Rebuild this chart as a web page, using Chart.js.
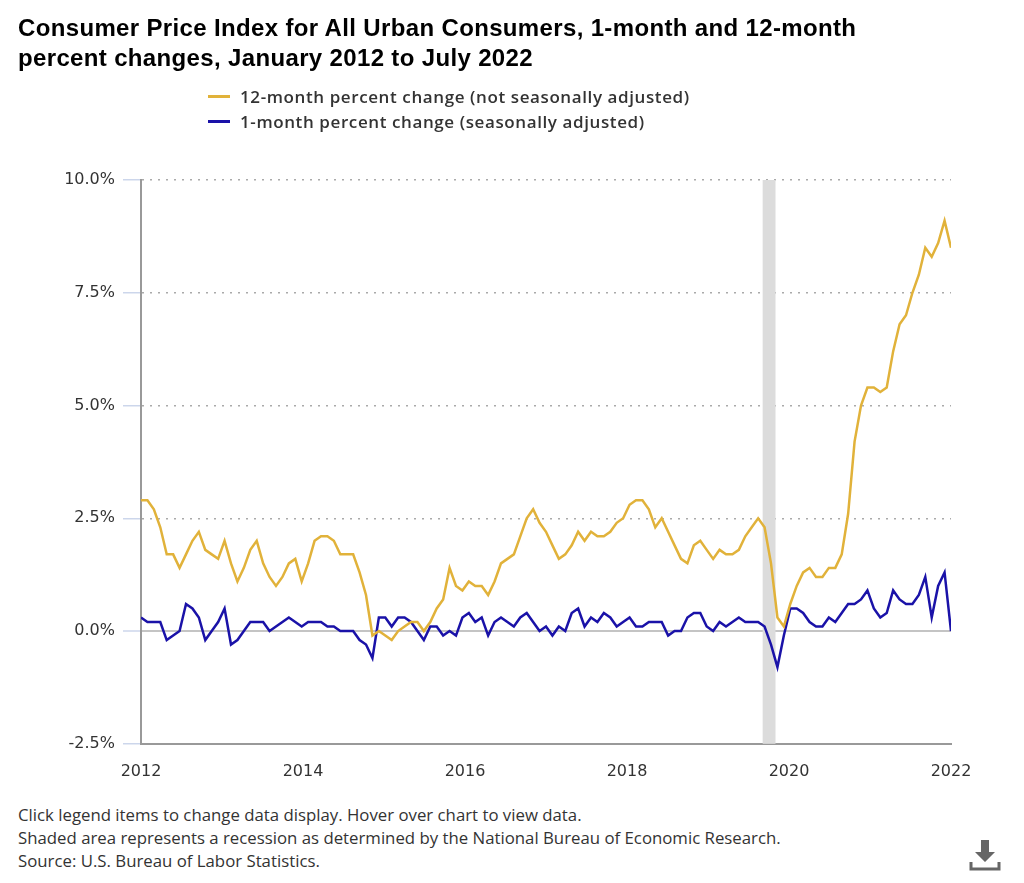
<!DOCTYPE html>
<html>
<head>
<meta charset="utf-8">
<script src="https://cdn.jsdelivr.net/npm/chart.js@4.4.1/dist/chart.umd.min.js"></script>
<style>
  body { margin: 0; background: #fff; width: 1024px; height: 883px; overflow: hidden; position: relative; font-family: "Open Sans", sans-serif; color: #333; }
  #title { position: absolute; left: 18px; top: 13px; font: bold 24px "Liberation Sans", Arial, sans-serif; letter-spacing: 0.35px; line-height: 30px; color: #000; }
  #legend { position: absolute; left: 208px; top: 84px; font-size: 17px; font-weight: 600; letter-spacing: 0.6px; line-height: 25px; color: #333; }
  #legend .item { display: flex; align-items: center; }
  #legend .swatch { width: 22px; height: 3px; margin-right: 10px; }
  #wrap { position: absolute; left: 0; top: 0; width: 1024px; height: 800px; }
  #notes { position: absolute; left: 18px; top: 803px; font-size: 16.8px; line-height: 23px; color: #333; }
  #dl { position: absolute; left: 968px; top: 838px; }
</style>
</head>
<body>
<div id="wrap"><canvas id="cpiChart" width="1024" height="800"></canvas></div>
<div id="title">Consumer Price Index for All Urban Consumers, 1-month and 12-month<br>percent changes, January 2012 to July 2022</div>
<div id="legend"></div>
<div id="notes">
  Click legend items to change data display. Hover over chart to view data.<br>
  Shaded area represents a recession as determined by the National Bureau of Economic Research.<br>
  Source: U.S. Bureau of Labor Statistics.
</div>
<svg id="dl" width="34" height="34" viewBox="0 0 34 34">
  <path d="M13 2h8v12h6l-10 10-10-10h6z" fill="#666"/>
  <path d="M3 24v7h28v-7" fill="none" stroke="#666" stroke-width="3"/>
</svg>
<script>
// monthly data, Jan 2012 .. Jul 2022
const twelveMonth = [
  2.9, 2.9, 2.7, 2.3, 1.7, 1.7, 1.4, 1.7, 2.0, 2.2, 1.8, 1.7,
  1.6, 2.0, 1.5, 1.1, 1.4, 1.8, 2.0, 1.5, 1.2, 1.0, 1.2, 1.5,
  1.6, 1.1, 1.5, 2.0, 2.1, 2.1, 2.0, 1.7, 1.7, 1.7, 1.3, 0.8,
  -0.1, 0.0, -0.1, -0.2, 0.0, 0.1, 0.2, 0.2, 0.0, 0.2, 0.5, 0.7,
  1.4, 1.0, 0.9, 1.1, 1.0, 1.0, 0.8, 1.1, 1.5, 1.6, 1.7, 2.1,
  2.5, 2.7, 2.4, 2.2, 1.9, 1.6, 1.7, 1.9, 2.2, 2.0, 2.2, 2.1,
  2.1, 2.2, 2.4, 2.5, 2.8, 2.9, 2.9, 2.7, 2.3, 2.5, 2.2, 1.9,
  1.6, 1.5, 1.9, 2.0, 1.8, 1.6, 1.8, 1.7, 1.7, 1.8, 2.1, 2.3,
  2.5, 2.3, 1.5, 0.3, 0.1, 0.6, 1.0, 1.3, 1.4, 1.2, 1.2, 1.4,
  1.4, 1.7, 2.6, 4.2, 5.0, 5.4, 5.4, 5.3, 5.4, 6.2, 6.8, 7.0,
  7.5, 7.9, 8.5, 8.3, 8.6, 9.1, 8.5
];
const oneMonth = [
  0.3, 0.2, 0.2, 0.2, -0.2, -0.1, 0.0, 0.6, 0.5, 0.3, -0.2, 0.0,
  0.2, 0.5, -0.3, -0.2, 0.0, 0.2, 0.2, 0.2, 0.0, 0.1, 0.2, 0.3,
  0.2, 0.1, 0.2, 0.2, 0.2, 0.1, 0.1, 0.0, 0.0, 0.0, -0.2, -0.3,
  -0.6, 0.3, 0.3, 0.1, 0.3, 0.3, 0.2, 0.0, -0.2, 0.1, 0.1, -0.1,
  0.0, -0.1, 0.3, 0.4, 0.2, 0.3, -0.1, 0.2, 0.3, 0.2, 0.1, 0.3,
  0.4, 0.2, 0.0, 0.1, -0.1, 0.1, 0.0, 0.4, 0.5, 0.1, 0.3, 0.2,
  0.4, 0.3, 0.1, 0.2, 0.3, 0.1, 0.1, 0.2, 0.2, 0.2, -0.1, 0.0,
  0.0, 0.3, 0.4, 0.4, 0.1, 0.0, 0.2, 0.1, 0.2, 0.3, 0.2, 0.2,
  0.2, 0.1, -0.3, -0.8, -0.1, 0.5, 0.5, 0.4, 0.2, 0.1, 0.1, 0.3,
  0.2, 0.4, 0.6, 0.6, 0.7, 0.9, 0.5, 0.3, 0.4, 0.9, 0.7, 0.6,
  0.6, 0.8, 1.2, 0.3, 1.0, 1.3, 0.0
];
const tickYears = ['2012', '2014', '2016', '2018', '2020', '2022'];
const yTicks = [-2.5, 0, 2.5, 5, 7.5, 10];
const recession = ['2020-02', '2020-04'];

const monthIndex = s => (parseInt(s.slice(0, 4)) - 2012) * 12 + parseInt(s.slice(5)) - 1;
const lastIdx = twelveMonth.length - 1;

// grey band for the recession, drawn under the lines
const recessionBand = {
  id: 'recessionBand',
  beforeDatasetsDraw(chart) {
    const x = chart.scales.x, area = chart.chartArea, ctx = chart.ctx;
    const x1 = x.getPixelForValue(monthIndex(recession[0]) - 0.3);
    const x2 = x.getPixelForValue(monthIndex(recession[1]) - 0.3);
    ctx.save();
    ctx.fillStyle = '#dcdcdc';
    ctx.fillRect(x1, area.top, x2 - x1, area.bottom - area.top);
    ctx.restore();
  }
};

const ctx = document.getElementById('cpiChart').getContext('2d');
const chart = new Chart(ctx, {
  type: 'line',
  data: {
    datasets: [{
      label: '12-month percent change (not seasonally adjusted)',
      data: twelveMonth.map((v, i) => ({ x: i, y: v })),
      borderColor: '#E1B23A',
      backgroundColor: '#E1B23A',
      borderWidth: 2.5,
      pointRadius: 0,
      tension: 0
    }, {
      label: '1-month percent change (seasonally adjusted)',
      data: oneMonth.map((v, i) => ({ x: i, y: v })),
      borderColor: '#1A12A8',
      backgroundColor: '#1A12A8',
      borderWidth: 2.5,
      pointRadius: 0,
      tension: 0
    }]
  },
  options: {
    responsive: false,
    animation: false,
    layout: { padding: { left: 0, right: 73, top: 180, bottom: 1 } },
    plugins: {
      legend: { display: false },
      tooltip: { enabled: false }
    },
    scales: {
      x: {
        type: 'linear',
        min: 0,
        max: lastIdx,
        afterBuildTicks: s => { s.ticks = tickYears.map((t, i) => ({ value: i * lastIdx / (tickYears.length - 1) })); },
        ticks: {
          callback: (v, i) => tickYears[i],
          font: { family: 'DejaVu Sans', size: 16 },
          color: '#333',
          padding: 18,
          maxRotation: 0
        },
        grid: { display: false, drawTicks: false },
        border: { display: true, color: '#999', width: 2 }
      },
      y: {
        min: -2.5,
        max: 10,
        afterBuildTicks: s => { s.ticks = yTicks.map(v => ({ value: v })); },
        afterFit: s => { s.width = 141; },
        ticks: {
          callback: v => v.toFixed(1) + '%',
          font: { family: 'DejaVu Sans', size: 16 },
          color: '#333',
          padding: 8
        },
        grid: {
          color: c => c.tick.value === 0 ? '#c4c4c4' : (c.tick.value === -2.5 ? 'rgba(0,0,0,0)' : '#aaa'),
          lineWidth: c => c.tick.value === 0 ? 2 : 1.5,
          tickColor: '#ccd6eb',
          tickLength: 18,
          tickWidth: 1.5
        },
        border: {
          display: true, color: '#999', width: 2,
          dash: c => (c.tick && c.tick.value !== 0) ? [2, 6] : []
        }
      }
    }
  },
  plugins: [recessionBand]
});

// legend, one item per line
const legend = document.getElementById('legend');
chart.data.datasets.forEach(ds => {
  const row = document.createElement('div');
  row.className = 'item';
  row.innerHTML = `<span class="swatch" style="background:${ds.borderColor}"></span><span>${ds.label}</span>`;
  legend.appendChild(row);
});
</script>
</body>
</html>
